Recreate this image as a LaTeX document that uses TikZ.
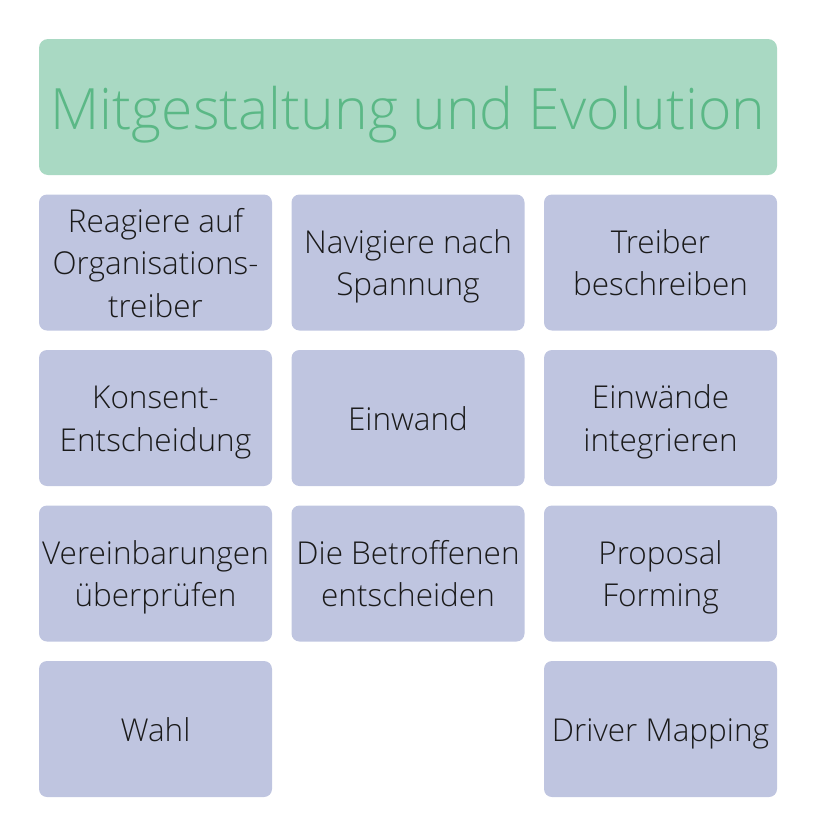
\documentclass[tikz,border=0pt]{standalone}
\usepackage{fontspec}
\setmainfont{Open Sans}[UprightFont=* Light]
\definecolor{hdrfill}{HTML}{A9D9C3}
\definecolor{hdrtext}{HTML}{5BB886}
\definecolor{boxfill}{HTML}{BFC5E0}
\definecolor{boxtext}{HTML}{1A1A1A}
\newcommand{\ls}{\rule[-9.1pt]{0pt}{42.5pt}}
\begin{document}
\begin{tikzpicture}[x=1pt,y=-1pt,
  hdr/.style={fill=hdrfill,rounded corners=9pt,minimum width=738pt,minimum height=136pt,inner sep=0pt,text=hdrtext,font=\fontsize{57}{68}\selectfont,text height=60.9pt,text depth=16.7pt},
  cell/.style={fill=boxfill,rounded corners=8pt,minimum width=233pt,minimum height=136pt,inner sep=0pt,text=boxtext,align=center,font=\fontsize{31.5}{42.5}\selectfont}]
\useasboundingbox (0,0) rectangle (816,836);
\node[hdr] (h) at (408,107) {Mitgestaltung und Evolution};
\node[cell] (a1) at (155.5,262.5) {\ls Reagiere auf\\\ls Organisations-\\\ls treiber};
\node[cell] (b1) at (408,262.5) {\ls Navigiere nach\\\ls Spannung};
\node[cell] (c1) at (660.5,262.5) {\ls Treiber\\\ls beschreiben};
\node[cell] (a2) at (155.5,418) {\ls Konsent-\\\ls Entscheidung};
\node[cell] (b2) at (408,418) {\ls Einwand};
\node[cell] (c2) at (660.5,418) {\ls Einwände\\\ls integrieren};
\node[cell] (a3) at (155.5,573.5) {\ls Vereinbarungen\\\ls überprüfen};
\node[cell] (b3) at (408,573.5) {\ls Die Betroffenen\\\ls entscheiden};
\node[cell] (c3) at (660.5,573.5) {\ls Proposal\\\ls Forming};
\node[cell] (a4) at (155.5,729) {\ls Wahl};
\node[cell] (c4) at (660.5,729) {\ls Driver Mapping};
\end{tikzpicture}
\end{document}
